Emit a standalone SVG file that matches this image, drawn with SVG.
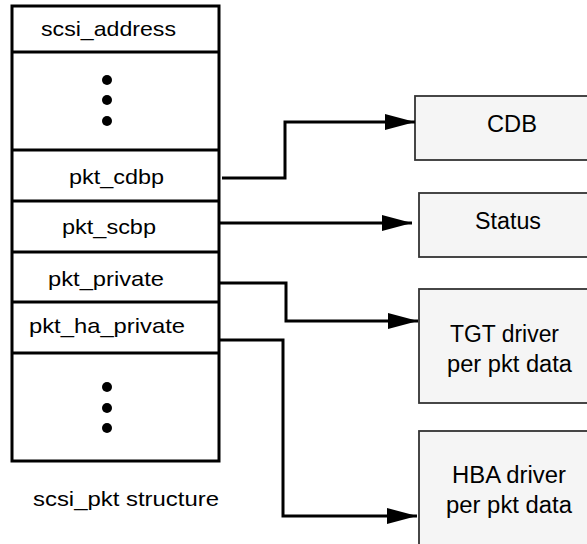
<svg xmlns="http://www.w3.org/2000/svg" width="587" height="544" viewBox="0 0 587 544">
<style>
text{font-family:"Liberation Sans",Arial,sans-serif;fill:#000}
.l{font-size:21px}
.r{font-size:23px}
.row{fill:#fff;stroke:#000;stroke-width:3}
.box{fill:#f5f5f5;stroke:#333;stroke-width:1.8}
.dot{fill:#000}
.conn{fill:none;stroke:#000;stroke-width:3}
</style>
<defs>
<marker id="arr" viewBox="0 0 30 16" refX="30" refY="8" markerWidth="30" markerHeight="16" markerUnits="userSpaceOnUse" orient="auto">
<path d="M0,0 L30,8 L0,16 Z" fill="#000"/>
</marker>
</defs>
<g id="scsi_pkt">
<rect class="row" x="12" y="6" width="207" height="455"/>
<line class="row" x1="12" y1="52" x2="219" y2="52"/>
<line class="row" x1="12" y1="150" x2="219" y2="150"/>
<line class="row" x1="12" y1="201" x2="219" y2="201"/>
<line class="row" x1="12" y1="252" x2="219" y2="252"/>
<line class="row" x1="12" y1="302" x2="219" y2="302"/>
<line class="row" x1="12" y1="353" x2="219" y2="353"/>
<text class="l" x="41" y="36" textLength="135" lengthAdjust="spacingAndGlyphs">scsi_address</text>
<circle class="dot" cx="107" cy="80" r="5"/>
<circle class="dot" cx="107" cy="100" r="5"/>
<circle class="dot" cx="107" cy="121" r="5"/>
<text class="l" x="69" y="184" textLength="95" lengthAdjust="spacingAndGlyphs">pkt_cdbp</text>
<text class="l" x="62" y="234" textLength="94" lengthAdjust="spacingAndGlyphs">pkt_scbp</text>
<text class="l" x="48" y="286" textLength="116" lengthAdjust="spacingAndGlyphs">pkt_private</text>
<text class="l" x="29" y="333" textLength="156" lengthAdjust="spacingAndGlyphs">pkt_ha_private</text>
<circle class="dot" cx="107" cy="387" r="5"/>
<circle class="dot" cx="107" cy="408" r="5"/>
<circle class="dot" cx="107" cy="428" r="5"/>
</g>
<g id="caption">
<text class="l" x="33" y="506" textLength="186" lengthAdjust="spacingAndGlyphs">scsi_pkt structure</text>
</g>
<g id="cdb">
<rect class="box" x="415" y="96" width="173" height="64"/>
<text class="r" x="487" y="132" textLength="50" lengthAdjust="spacingAndGlyphs">CDB</text>
</g>
<g id="status">
<rect class="box" x="419" y="193" width="169" height="64"/>
<text class="r" x="475" y="229" textLength="66" lengthAdjust="spacingAndGlyphs">Status</text>
</g>
<g id="tgt">
<rect class="box" x="419" y="289" width="169" height="114"/>
<text class="r" x="450" y="342" textLength="109" lengthAdjust="spacingAndGlyphs">TGT driver</text>
<text class="r" x="447" y="372" textLength="125" lengthAdjust="spacingAndGlyphs">per pkt data</text>
</g>
<g id="hba">
<rect class="box" x="419" y="431" width="169" height="120"/>
<text class="r" x="452" y="483" textLength="114" lengthAdjust="spacingAndGlyphs">HBA driver</text>
<text class="r" x="446" y="513" textLength="126" lengthAdjust="spacingAndGlyphs">per pkt data</text>
</g>
<g id="connectors">
<polyline class="conn" points="222,178 285,178 285,122 415,122" marker-end="url(#arr)"/>
<polyline class="conn" points="220,223 412,223" marker-end="url(#arr)"/>
<polyline class="conn" points="219,283 286,283 286,321 418,321" marker-end="url(#arr)"/>
<polyline class="conn" points="219,340 283,340 283,516 417,516" marker-end="url(#arr)"/>
</g>
</svg>
